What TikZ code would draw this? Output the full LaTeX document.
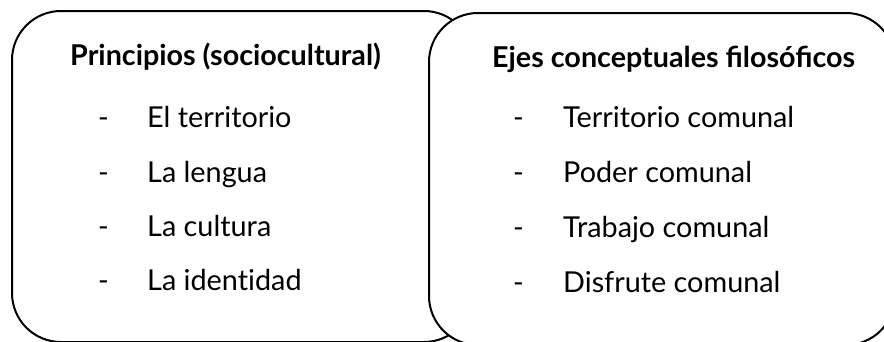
\documentclass[tikz,border=0pt]{standalone}
\usepackage{fontspec}
\setmainfont[Ligatures=NoCommon]{Lato}
\newfontfamily\headfont{Lato}
\begin{document}
\begin{tikzpicture}[x=1pt,y=-1pt,
  box/.style={draw=black,fill=white,line width=2pt,rounded corners=49pt},
  head/.style={anchor=base west,inner sep=0pt,font=\headfont\fontsize{28.7}{32}\selectfont\bfseries},
  item/.style={anchor=base west,inner sep=0pt,font=\fontsize{28.8}{32}\selectfont},
  bullet/.style={anchor=base west,inner sep=0pt,font=\fontsize{28.8}{32}\selectfont}]
\useasboundingbox (0,0) rectangle (884,341);
\begin{scope}
\clip (0,0) rectangle (884,341);
\draw[box] (12,11) rectangle (473,342);
\draw[box] (429,13) rectangle (895,345);
\end{scope}
\node[head] (h1) at (70,65) {Principios (sociocultural)};
\node[head] (h2) at (492,67) {Ejes conceptuales filosóficos};
\foreach \y/\t [count=\i] in {127/El territorio,182/La lengua,236/La cultura,290/La identidad}{
  \node[bullet] (ld\i) at (98,\y) {-};
  \node[item] (lt\i) at (147,\y) {\t};
}
\foreach \y/\t [count=\i] in {127/Territorio comunal,182/Poder comunal,237/Trabajo comunal,292/Disfrute comunal}{
  \node[bullet] (rd\i) at (513,\y) {-};
  \node[item] (rt\i) at (563,\y) {\t};
}
\end{tikzpicture}
\end{document}
